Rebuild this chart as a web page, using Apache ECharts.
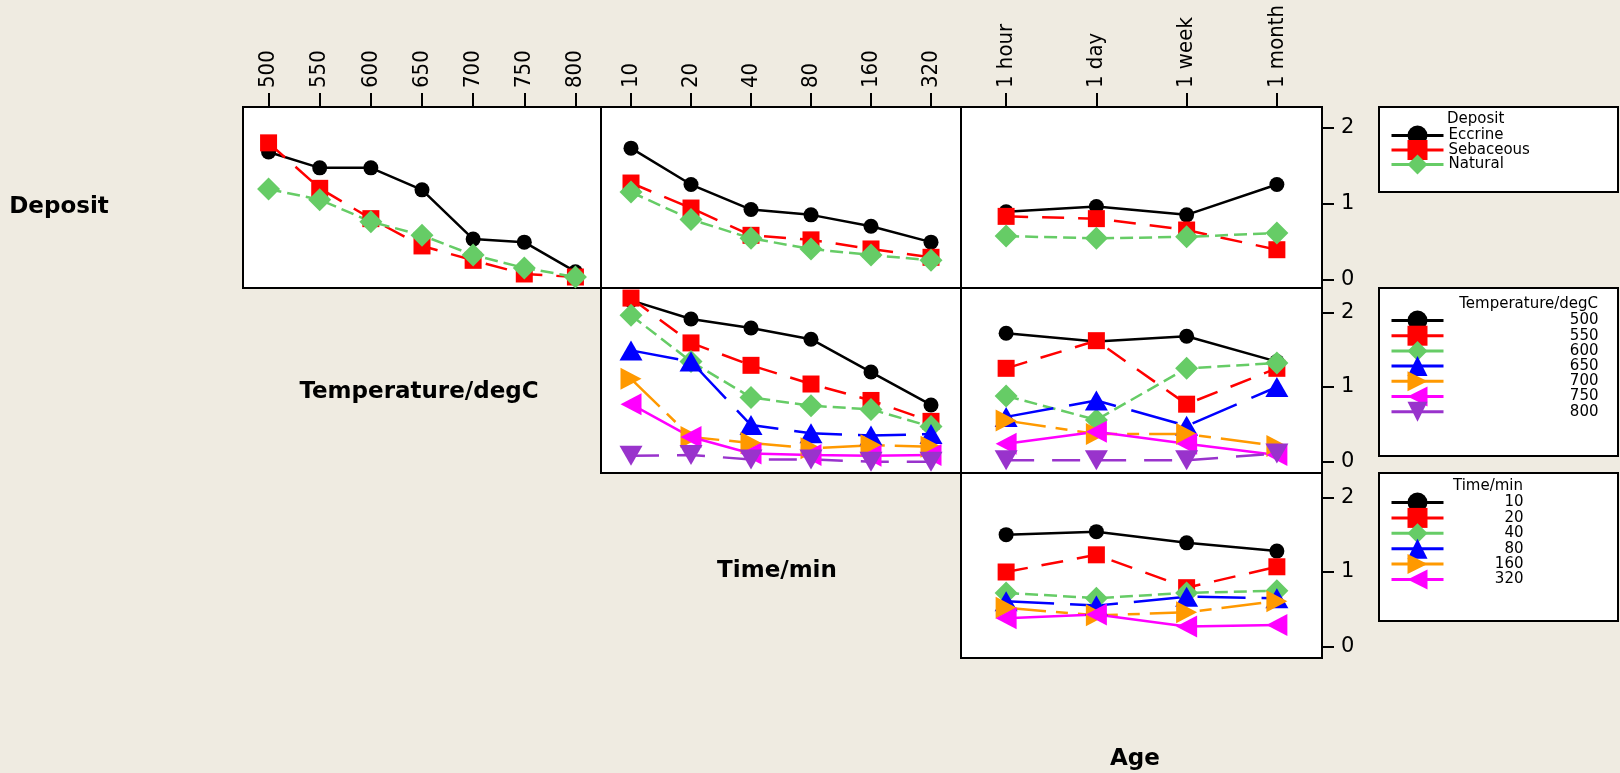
<!DOCTYPE html>
<html><head><meta charset="utf-8">
<script src="https://cdn.jsdelivr.net/npm/echarts@6/dist/echarts.min.js"></script>
<style>html,body{margin:0;padding:0;background:#efebe1;}#c{width:1620px;height:773px;}</style>
</head><body><div id="c"></div>
<script>
// ---- categories / tick labels ----
const temperatureCats = ['500','550','600','650','700','750','800'];
const timeCats = ['10','20','40','80','160','320'];
const ageCats = ['1 hour','1 day','1 week','1 month'];
const depositNames = ['Eccrine','Sebaceous','Natural'];
const yTickValues = [0, 1, 2];

// ---- Deposit traces ----
const eccrineByTemp   = [1.68,1.47,1.47,1.18,0.53,0.49,0.10];
const sebaceousByTemp = [1.80,1.20,0.80,0.44,0.25,0.07,0.03];
const naturalByTemp   = [1.19,1.05,0.76,0.58,0.32,0.15,0.03];
const eccrineByTime   = [1.73,1.25,0.92,0.85,0.70,0.49];
const sebaceousByTime = [1.27,0.94,0.58,0.52,0.40,0.29];
const naturalByTime   = [1.15,0.79,0.54,0.40,0.32,0.25];
const eccrineByAge    = [0.89,0.96,0.85,1.25];
const sebaceousByAge  = [0.83,0.80,0.65,0.39];
const naturalByAge    = [0.57,0.54,0.56,0.61];

// ---- Temperature traces ----
const t500ByTime = [2.16,1.91,1.79,1.64,1.20,0.76];
const t550ByTime = [2.19,1.59,1.29,1.04,0.82,0.54];
const t600ByTime = [1.96,1.34,0.86,0.75,0.70,0.47];
const t650ByTime = [1.49,1.34,0.49,0.38,0.35,0.37];
const t700ByTime = [1.11,0.33,0.25,0.18,0.22,0.20];
const t750ByTime = [0.77,0.33,0.11,0.09,0.08,0.09];
const t800ByTime = [0.08,0.09,0.03,0.03,0.00,0.00];
const t500ByAge = [1.72,1.61,1.68,1.34];
const t550ByAge = [1.25,1.62,0.77,1.25];
const t600ByAge = [0.88,0.56,1.25,1.32];
const t650ByAge = [0.60,0.82,0.48,1.00];
const t700ByAge = [0.55,0.37,0.37,0.21];
const t750ByAge = [0.24,0.40,0.24,0.09];
const t800ByAge = [0.02,0.02,0.02,0.11];

// ---- Time traces ----
const m10ByAge  = [1.50,1.54,1.39,1.28];
const m20ByAge  = [1.00,1.23,0.79,1.07];
const m40ByAge  = [0.72,0.65,0.72,0.75];
const m80ByAge  = [0.61,0.55,0.67,0.65];
const m160ByAge = [0.52,0.42,0.46,0.61];
const m320ByAge = [0.38,0.43,0.27,0.29];

const FONT = "'DejaVu Sans', Verdana, sans-serif";
const TICKFONT = "'Liberation Sans Narrow', 'DejaVu Sans Condensed', 'DejaVu Sans', sans-serif";

const styles = [
  {color:'#000000', symbol:'circle',   size:15,      rotate:0,   dash:'solid'},
  {color:'#ff0000', symbol:'rect',     size:17,      rotate:0,   dash:[22,14]},
  {color:'#66cc66', symbol:'diamond',  size:23,      rotate:0,   dash:[13,6]},
  {color:'#0000ff', symbol:'triangle', size:[23,20], rotate:0,   dash:[48,16]},
  {color:'#ff9900', symbol:'triangle', size:[22,21], rotate:-90, dash:[40,10,12,10]},
  {color:'#ff00ff', symbol:'triangle', size:[22,21], rotate:90,  dash:'solid'},
  {color:'#9933cc', symbol:'triangle', size:[23,20], rotate:180, dash:[28,18]}
];

const panels = [
  {left:243, top:107, width:358, height:181, cats:temperatureCats, showX:true, showY:false, yMin:-0.115, yMax:2.273,
   names:depositNames, data:[eccrineByTemp, sebaceousByTemp, naturalByTemp]},
  {left:601, top:107, width:360, height:181, cats:timeCats, showX:true, showY:false, yMin:-0.115, yMax:2.273,
   names:depositNames, data:[eccrineByTime, sebaceousByTime, naturalByTime]},
  {left:961, top:107, width:361, height:181, cats:ageCats, showX:true, showY:true, yMin:-0.115, yMax:2.273,
   names:depositNames, data:[eccrineByAge, sebaceousByAge, naturalByAge]},
  {left:601, top:288, width:360, height:185, cats:timeCats, showX:false, showY:false, yMin:-0.151, yMax:2.325,
   names:temperatureCats, data:[t500ByTime,t550ByTime,t600ByTime,t650ByTime,t700ByTime,t750ByTime,t800ByTime]},
  {left:961, top:288, width:361, height:185, cats:ageCats, showX:false, showY:true, yMin:-0.151, yMax:2.325,
   names:temperatureCats, data:[t500ByAge,t550ByAge,t600ByAge,t650ByAge,t700ByAge,t750ByAge,t800ByAge]},
  {left:961, top:473, width:361, height:185, cats:ageCats, showX:false, showY:true, yMin:-0.151, yMax:2.325,
   names:timeCats, data:[m10ByAge,m20ByAge,m40ByAge,m80ByAge,m160ByAge,m320ByAge]}
];

const grid = [], xAxis = [], yAxis = [], series = [];
panels.forEach((p, i) => {
  grid.push({left:p.left, top:p.top, width:p.width, height:p.height, show:true,
    backgroundColor:'#ffffff', borderColor:'#000000', borderWidth:2, containLabel:false});
  xAxis.push({type:'category', gridIndex:i, data:p.cats, position:'top', boundaryGap:true,
    axisLine:{show:false, onZero:false},
    axisTick:{show:p.showX, alignWithLabel:true, length:14, lineStyle:{color:'#000', width:2}},
    axisLabel:{show:p.showX, rotate:-90, margin:19, color:'#000', fontSize:22, fontFamily:TICKFONT},
    splitLine:{show:false}});
  yAxis.push({type:'value', gridIndex:i, min:p.yMin, max:p.yMax, position:'right',
    show:p.showY, axisLine:{show:false, onZero:false}, splitLine:{show:false},
    axisTick:{show:true, length:12, customValues:yTickValues, lineStyle:{color:'#000', width:2}},
    axisLabel:{show:true, margin:19, color:'#000', fontSize:21, fontFamily:FONT, customValues:yTickValues}});
  p.data.forEach((d, k) => {
    const s = styles[k];
    series.push({type:'line', name:p.names[k], xAxisIndex:i, yAxisIndex:i, data:d,
      symbol:s.symbol, symbolSize:s.size, symbolRotate:s.rotate, showAllSymbol:true,
      lineStyle:{color:s.color, width:2.5, type:s.dash},
      itemStyle:{color:s.color, borderWidth:0},
      emphasis:{disabled:true}, animation:false});
  });
});

const legendBase = {orient:'vertical', left:1390, itemWidth:52, padding:0,
  lineStyle:{type:'solid', width:3}, textStyle:{color:'#000', fontSize:15, fontFamily:FONT}};

const option = {
  backgroundColor:'#efebe1',
  animation:false,
  grid, xAxis, yAxis, series,
  legend:[
    Object.assign({}, legendBase, {data:depositNames, top:125.5, itemHeight:25, itemGap:-5.5}),
    Object.assign({}, legendBase, {data:temperatureCats, top:310.5, itemHeight:25, itemGap:-4.8,
      formatter:n => '{r|' + n + '}',
      textStyle:{color:'#000', fontSize:15, fontFamily:FONT, rich:{r:{width:150, align:'right', fontSize:15, fontFamily:FONT, color:'#000'}}}}),
    Object.assign({}, legendBase, {data:timeCats, top:492.5, itemHeight:25, itemGap:-4.6,
      formatter:n => '{r|' + n + '}',
      textStyle:{color:'#000', fontSize:15, fontFamily:FONT, rich:{r:{width:75, align:'right', fontSize:15, fontFamily:FONT, color:'#000'}}}})
  ],
  graphic:[
    {type:'rect', shape:{x:1379, y:107, width:239, height:85}, style:{fill:'#fff', stroke:'#000', lineWidth:2}, z:0},
    {type:'rect', shape:{x:1379, y:288, width:239, height:168}, style:{fill:'#fff', stroke:'#000', lineWidth:2}, z:0},
    {type:'rect', shape:{x:1379, y:473, width:239, height:148}, style:{fill:'#fff', stroke:'#000', lineWidth:2}, z:0},
    {type:'text', x:1447, y:119, style:{text:'Deposit', font:'15px ' + FONT, fill:'#000', textAlign:'left', textVerticalAlign:'middle'}, z:5},
    {type:'text', x:1598, y:304, style:{text:'Temperature/degC', font:'15px ' + FONT, fill:'#000', textAlign:'right', textVerticalAlign:'middle'}, z:5},
    {type:'text', x:1523, y:486, style:{text:'Time/min', font:'15px ' + FONT, fill:'#000', textAlign:'right', textVerticalAlign:'middle'}, z:5},
    {type:'text', x:59, y:207, style:{text:'Deposit', font:'bold 23px ' + FONT, fill:'#000', textAlign:'center', textVerticalAlign:'middle'}, z:5},
    {type:'text', x:419, y:392, style:{text:'Temperature/degC', font:'bold 23px ' + FONT, fill:'#000', textAlign:'center', textVerticalAlign:'middle'}, z:5},
    {type:'text', x:777, y:571, style:{text:'Time/min', font:'bold 23px ' + FONT, fill:'#000', textAlign:'center', textVerticalAlign:'middle'}, z:5},
    {type:'text', x:1135, y:759, style:{text:'Age', font:'bold 23px ' + FONT, fill:'#000', textAlign:'center', textVerticalAlign:'middle'}, z:5}
  ]
};

const chart = echarts.init(document.getElementById('c'));
chart.setOption(option);
</script></body></html>
